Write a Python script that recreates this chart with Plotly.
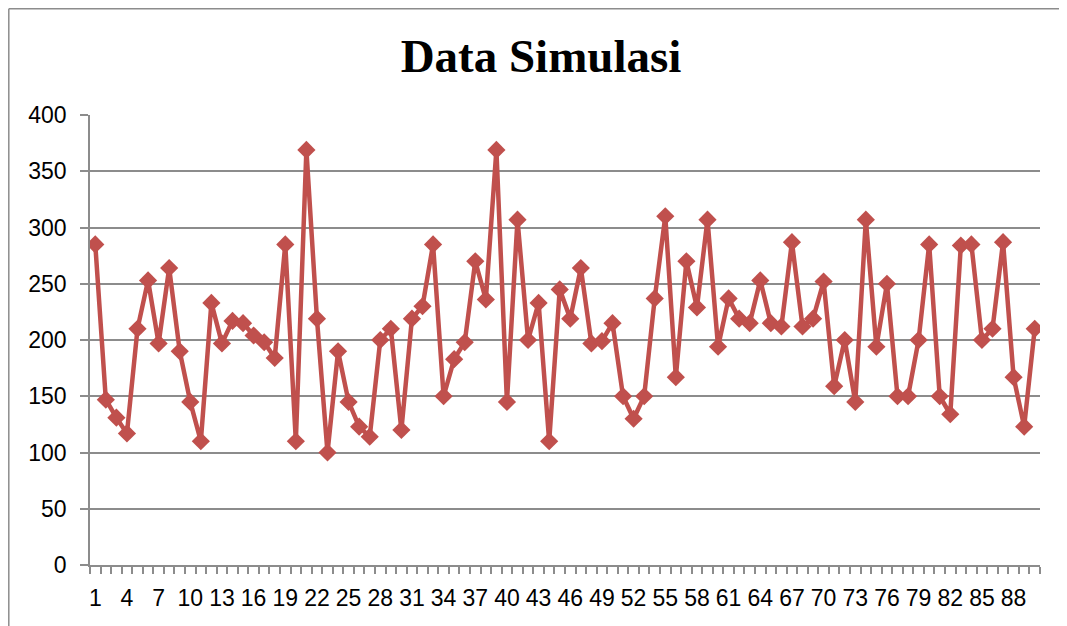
import plotly.graph_objects as go

categories = list(range(1, 91))
values = [
    285, 147, 131, 117, 210, 253, 197, 264, 190, 145,
    110, 233, 197, 217, 215, 204, 198, 184, 285, 110,
    369, 219, 100, 190, 145, 123, 114, 200, 210, 120,
    219, 230, 285, 150, 183, 198, 270, 236, 369, 145,
    307, 200, 233, 110, 245, 219, 264, 197, 199, 215,
    150, 130, 150, 237, 310, 167, 270, 229, 307, 194,
    237, 219, 215, 253, 215, 212, 287, 212, 219, 252,
    159, 200, 145, 307, 194, 250, 150, 150, 200, 285,
    150, 134, 284, 285, 200, 210, 287, 167, 123, 210,
]
tick_vals = list(range(1, 91, 3))
tick_text = [str(v) for v in tick_vals]
y_ticks = [0, 50, 100, 150, 200, 250, 300, 350, 400]

title_text = "Data Simulasi"
line_color = "#C0504D"
grid_color = "#8C8C8C"

W, H = 1059, 618
L, R, T, B = 82, 27, 107, 61
PW, PH = W - L - R, H - T - B

fig = go.Figure()
fig.add_trace(go.Scatter(
    x=categories, y=values, mode="lines+markers",
    line=dict(color=line_color, width=4.5),
    marker=dict(symbol="diamond", size=14, color=line_color),
    showlegend=False,
))

fig.update_layout(
    width=W, height=H,
    margin=dict(l=L, r=R, t=T, b=B),
    paper_bgcolor="white", plot_bgcolor="white",
    title=dict(text=title_text, x=533/W, xref="container", xanchor="center",
               y=1 - 48/H, yref="container", yanchor="middle",
               font=dict(family="Liberation Serif", size=47, color="black", weight="bold")),
    font=dict(family="Liberation Sans", size=23, color="black"),
)
fig.update_xaxes(
    range=[0.5, 90.5], tickmode="array", tickvals=tick_vals, ticktext=tick_text,
    tickangle=0, ticks="", showgrid=False, zeroline=False,
    showline=True, linecolor=grid_color, linewidth=1.5,
    ticklabelstandoff=12,
    minor=dict(ticks="outside", tick0=0.5, dtick=1, ticklen=7, tickcolor=grid_color,
               tickwidth=1.5, showgrid=False),
    tickfont=dict(family="Liberation Sans", size=23, color="black"),
)
fig.update_yaxes(
    range=[0, 400], tickmode="array", tickvals=y_ticks,
    ticks="outside", ticklen=8, tickcolor=grid_color, tickwidth=1.5,
    showgrid=True, gridcolor=grid_color, gridwidth=1.5, zeroline=False,
    showline=True, linecolor=grid_color, linewidth=1.5,
    ticklabelstandoff=9,
    tickfont=dict(family="Liberation Sans", size=23, color="black"),
)

# chart-area border (left and top edges visible)
bx = (0.8 - L) / PW
by = (H - B - 0.8) / PH
fig.add_shape(type="line", xref="paper", yref="paper", x0=bx, x1=1.2, y0=by, y1=by,
              line=dict(color="#8C8C8C", width=1.5))
fig.add_shape(type="line", xref="paper", yref="paper", x0=bx, x1=bx, y0=-0.3, y1=by,
              line=dict(color="#8C8C8C", width=1.5))

fig.write_html("out.html")
